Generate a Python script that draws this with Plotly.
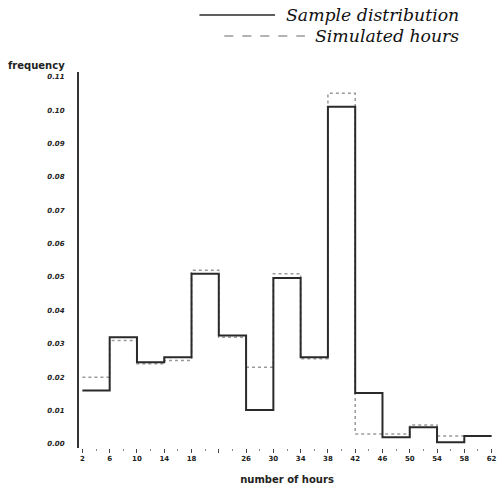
import plotly.graph_objects as go

# Bin edges (hours) and frequencies
bin_edges = [2, 6, 10, 14, 18, 22, 26, 30, 34, 38, 42, 46, 50, 54, 58, 62]
sample_freq = [0.016, 0.032, 0.0245, 0.026, 0.051, 0.0325, 0.0102, 0.0497,
               0.026, 0.101, 0.0153, 0.002, 0.005, 0.0005, 0.0024]
simulated_freq = [0.020, 0.031, 0.024, 0.025, 0.052, 0.032, 0.023, 0.051,
                  0.0255, 0.105, 0.003, 0.003, 0.0057, 0.0024, 0.0024]

x_tickvals = [2, 6, 10, 14, 18, 22, 26, 30, 34, 38, 42, 46, 50, 54, 58, 62]
x_ticktext = ["2", "6", "10", "14", "18", "", "26", "30", "34", "38", "42",
              "46", "50", "54", "58", "62"]
x_minor = [4, 8, 12, 16, 20, 24, 28, 32, 36, 40, 44, 48, 52, 56, 60]
y_tickvals = [0.00, 0.01, 0.02, 0.03, 0.04, 0.05, 0.06, 0.07, 0.08, 0.09, 0.10, 0.11]

W, H = 500, 491
L, R, T, B = 79, 3, 72, 43
PW, PH = W - L - R, H - T - B


def px_x(px):
    return (px - L) / PW


def px_y(py):
    return (H - B - py) / PH


fig = go.Figure()
fig.add_trace(go.Scatter(
    x=bin_edges, y=simulated_freq + [simulated_freq[-1]],
    mode="lines", line=dict(shape="hv", color="#9a9a9a", width=1.5, dash="dot"),
    name="Simulated hours", showlegend=False))
fig.add_trace(go.Scatter(
    x=bin_edges, y=sample_freq + [sample_freq[-1]],
    mode="lines", line=dict(shape="hv", color="#2a2a2a", width=2),
    name="Sample distribution", showlegend=False))

tickfont = dict(family="DejaVu Sans", size=7, color="#222", weight="bold", style="italic")

fig.update_layout(
    width=W, height=H,
    margin=dict(l=L, r=R, t=T, b=B),
    paper_bgcolor="white", plot_bgcolor="white",
    xaxis=dict(
        range=[1.5, 62.5], showgrid=False, zeroline=False, showline=False,
        tickmode="array", tickvals=x_tickvals, ticktext=x_ticktext,
        ticks="outside", ticklen=4, tickwidth=1, tickcolor="#444",
        minor=dict(tickvals=x_minor, ticks="outside", ticklen=2, tickcolor="#888"),
        tickfont=dict(family="DejaVu Sans", size=7, color="#222", weight="bold"),
        title=dict(text="number of hours", standoff=13,
                   font=dict(family="DejaVu Sans", size=10, color="#222", weight="bold")),
    ),
    yaxis=dict(
        range=[-0.0012, 0.1114], showgrid=False, zeroline=False,
        showline=True, linecolor="#333", linewidth=2,
        tickmode="array", tickvals=y_tickvals, tickformat=".2f",
        ticks="", ticklabelstandoff=11, tickfont=tickfont,
    ),
    shapes=[
        dict(type="line", xref="paper", yref="paper",
             x0=px_x(200), x1=px_x(276), y0=px_y(15), y1=px_y(15),
             line=dict(color="#2a2a2a", width=1.5)),
        dict(type="line", xref="paper", yref="paper",
             x0=px_x(225), x1=px_x(306), y0=px_y(36), y1=px_y(36),
             line=dict(color="#9a9a9a", width=1.5, dash="dash")),
    ],
    annotations=[
        dict(text="Sample distribution", xref="paper", yref="paper",
             x=px_x(463), y=px_y(15), xanchor="right", yanchor="middle",
             showarrow=False,
             font=dict(family="DejaVu Serif", size=17.3, color="#111", style="italic")),
        dict(text="Simulated hours", xref="paper", yref="paper",
             x=px_x(463), y=px_y(36), xanchor="right", yanchor="middle",
             showarrow=False,
             font=dict(family="DejaVu Serif", size=17.3, color="#111", style="italic")),
        dict(text="frequency", xref="paper", yref="paper",
             x=px_x(6), y=px_y(65), xanchor="left", yanchor="middle",
             showarrow=False,
             font=dict(family="DejaVu Sans", size=10, color="#222", weight="bold")),
    ],
)

fig.write_html("out.html")
